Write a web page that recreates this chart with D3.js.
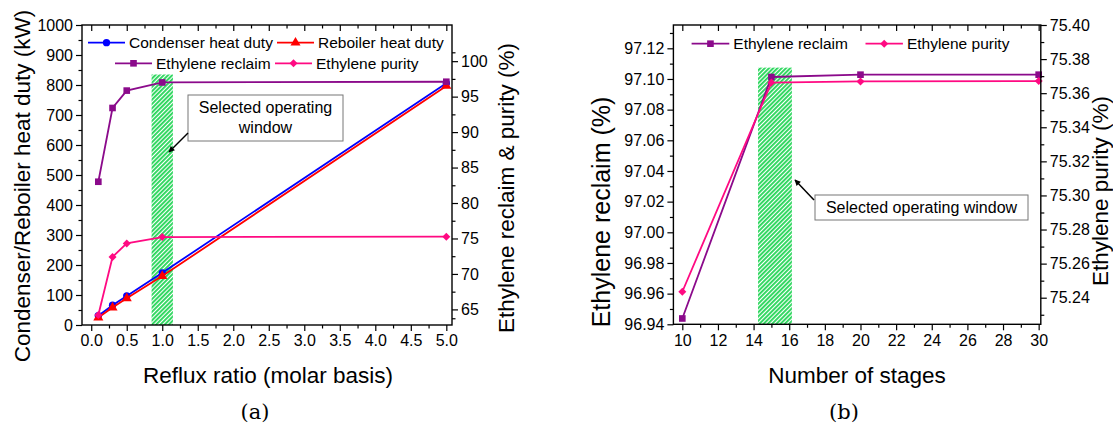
<!DOCTYPE html>
<html><head><meta charset="utf-8">
<script src="https://cdn.jsdelivr.net/npm/d3@7"></script>
<style>
body{margin:0;background:#fff}
svg{display:block}
text{font-family:"Liberation Sans",Arial,sans-serif;fill:#000}
</style></head>
<body><svg id="c" width="1113" height="427"></svg>
<script>
// ---------- DATA (panel a) ----------
const refluxRatio   = [0.1, 0.3, 0.5, 1.0, 5.0];
const condenserDuty = [31, 66, 97, 174, 806];
const reboilerDuty  = [25, 58, 89, 163, 797];
const reclaimA      = [83.0, 93.4, 95.85, 97.0, 97.1];
const purityA       = [64.2, 72.4, 74.3, 75.2, 75.25];
const windowA       = [0.85, 1.15];
const windowATop    = 835;
const xTicksA       = [0,0.5,1,1.5,2,2.5,3,3.5,4,4.5,5];
const yTicksA       = [0,100,200,300,400,500,600,700,800,900,1000];
const y2TicksA      = [65,70,75,80,85,90,95,100];
// ---------- DATA (panel b) ----------
const stages        = [10, 15, 20, 30];
const reclaimB      = [96.9438, 97.1013, 97.1028, 97.1028];
const purityB       = [75.2435, 75.3662, 75.3669, 75.3671];
const windowB       = [14.25, 16.15];
const windowBTop    = 97.1074;
const xTicksB       = [10,12,14,16,18,20,22,24,26,28,30];
const yTicksB       = [96.94,96.96,96.98,97.00,97.02,97.04,97.06,97.08,97.10,97.12];
const y2TicksB      = [75.24,75.26,75.28,75.30,75.32,75.34,75.36,75.38,75.40];

const C_BLUE="#0000ff", C_RED="#ff0000", C_PURPLE="#8b0a8b", C_PINK="#ff0a82";

const svg = d3.select("#c");
const defs = svg.append("defs");
const pat = defs.append("pattern").attr("id","hatch").attr("patternUnits","userSpaceOnUse")
  .attr("width",3).attr("height",3).attr("patternTransform","rotate(45)");
pat.append("rect").attr("width",3).attr("height",3).attr("fill","#ffffff");
pat.append("rect").attr("width",1.9).attr("height",3).attr("fill","#2bd65c");
defs.append("marker").attr("id","arrow").attr("viewBox","0 0 10 10").attr("refX",9).attr("refY",5)
  .attr("markerWidth",7).attr("markerHeight",6).attr("orient","auto-start-reverse").attr("markerUnits","userSpaceOnUse")
  .append("path").attr("d","M0,0L10,5L0,10z").attr("fill","#000");

const symSq = d3.symbol().type(d3.symbolSquare).size(44)();
const symCi = d3.symbol().type(d3.symbolCircle).size(42)();
const symTr = d3.symbol().type(d3.symbolTriangle).size(44)();
const symDi = d3.symbol().type(d3.symbolSquare).size(32)();

function minorTicks(major){
  const out=[]; for(let i=0;i<major.length-1;i++) out.push((major[i]+major[i+1])/2); return out;
}

function series(g, x, y, xs, ys, color, sym, rot){
  const pts = xs.map((v,i)=>[v, ys[i]]);
  g.append("path").datum(pts).attr("fill","none").attr("stroke",color).attr("stroke-width",1.8)
   .attr("d", d3.line().x(d=>x(d[0])).y(d=>y(d[1])));
  g.selectAll(null).data(pts).enter().append("path").attr("d",sym).attr("fill",color)
   .attr("transform",d=>`translate(${x(d[0])},${y(d[1])})${rot?" rotate(45)":""}`);
}

function legendItem(g, lx, ly, len, color, sym, rot, label){
  g.append("line").attr("x1",lx).attr("x2",lx+len).attr("y1",ly).attr("y2",ly).attr("stroke",color).attr("stroke-width",1.8);
  g.append("path").attr("d",sym).attr("fill",color).attr("transform",`translate(${lx+len/2},${ly})${rot?" rotate(45)":""}`);
  g.append("text").attr("x",lx+len+4).attr("y",ly+5.5).attr("font-size",15.5).text(label);
}

function axes(g, x, y, y2, xt, yt, y2t, xf, yf, y2f, xMin, yMin, y2Min){
  const [x0,x1]=x.range(), [yb,yt0]=y.range();
  const styleAx = s=>{ s.select(".domain").remove(); s.selectAll("line").attr("stroke","#000").attr("stroke-width",1.2); s.selectAll("text").attr("font-size",16).attr("font-family",'"Liberation Sans",Arial,sans-serif'); };
  g.append("g").attr("transform",`translate(0,${yb})`).call(d3.axisBottom(x).tickValues(xt).tickSize(6).tickPadding(4).tickFormat(xf)).call(styleAx);
  g.append("g").attr("transform",`translate(0,${yb})`).call(d3.axisBottom(x).tickValues(xMin).tickSize(3.5).tickFormat("")).call(styleAx);
  g.append("g").attr("transform",`translate(0,${yt0})`).call(d3.axisTop(x).tickValues(xt).tickSize(-6).tickFormat("")).call(styleAx);
  g.append("g").attr("transform",`translate(0,${yt0})`).call(d3.axisTop(x).tickValues(xMin).tickSize(-3.5).tickFormat("")).call(styleAx);
  g.append("g").attr("transform",`translate(${x0},0)`).call(d3.axisLeft(y).tickValues(yt).tickSize(6).tickPadding(3).tickFormat(yf)).call(styleAx);
  g.append("g").attr("transform",`translate(${x0},0)`).call(d3.axisLeft(y).tickValues(yMin).tickSize(3.5).tickFormat("")).call(styleAx);
  g.append("g").attr("transform",`translate(${x1},0)`).call(d3.axisRight(y2).tickValues(y2t).tickSize(6).tickPadding(3).tickFormat(y2f)).call(styleAx);
  g.append("g").attr("transform",`translate(${x1},0)`).call(d3.axisRight(y2).tickValues(y2Min).tickSize(3.5).tickFormat("")).call(styleAx);
  g.append("rect").attr("x",x0).attr("y",yt0).attr("width",x1-x0).attr("height",yb-yt0).attr("fill","none").attr("stroke","#000").attr("stroke-width",1.4);
}

// ================= PANEL A =================
{
  const g = svg.append("g");
  const x = d3.scaleLinear().domain([-0.13,5.08]).range([82,452]);
  const y = d3.scaleLinear().domain([0,1000]).range([325,25]);
  const y2 = d3.scaleLinear().domain([62.8,105.1]).range([325,25]);
  g.append("rect").attr("x",x(windowA[0])).attr("width",x(windowA[1])-x(windowA[0]))
   .attr("y",y(windowATop)).attr("height",y(0)-y(windowATop)).attr("fill","url(#hatch)");
  series(g,x,y,refluxRatio,condenserDuty,C_BLUE,symCi,false);
  series(g,x,y,refluxRatio,reboilerDuty,C_RED,symTr,false);
  series(g,x,y2,refluxRatio,reclaimA,C_PURPLE,symSq,false);
  series(g,x,y2,refluxRatio,purityA,C_PINK,symDi,true);
  axes(g,x,y,y2,xTicksA,yTicksA,y2TicksA,d3.format(".1f"),d3.format("d"),d3.format("d"),
       minorTicks(xTicksA),minorTicks(yTicksA),minorTicks([62.5].concat(y2TicksA,[102.5])));
  legendItem(g,88,42.7,37,C_BLUE,symCi,false,"Condenser heat duty");
  legendItem(g,277,42.7,37,C_RED,symTr,false,"Reboiler heat duty");
  legendItem(g,115,63.3,37,C_PURPLE,symSq,false,"Ethylene reclaim");
  legendItem(g,275,63.3,37,C_PINK,symDi,true,"Ethylene purity");
  g.append("rect").attr("x",188).attr("y",95).attr("width",155).attr("height",46).attr("fill","#fff").attr("stroke","#777").attr("stroke-width",1);
  g.append("text").attr("x",265.5).attr("y",113).attr("text-anchor","middle").attr("font-size",16).text("Selected operating");
  g.append("text").attr("x",265.5).attr("y",133).attr("text-anchor","middle").attr("font-size",16).text("window");
  g.append("line").attr("x1",188).attr("y1",133).attr("x2",169).attr("y2",152).attr("stroke","#000").attr("stroke-width",1.5).attr("marker-end","url(#arrow)");
  g.append("text").attr("x",268).attr("y",383).attr("text-anchor","middle").attr("font-size",22.5).text("Reflux ratio (molar basis)");
  g.append("text").attr("transform","translate(30,186) rotate(-90)").attr("text-anchor","middle").attr("font-size",22.5).text("Condenser/Reboiler heat duty (kW)");
  g.append("text").attr("transform","translate(514,188) rotate(-90)").attr("text-anchor","middle").attr("font-size",22.5).text("Ethylene reclaim & purity (%)");
  g.append("text").attr("x",255).attr("y",419).attr("text-anchor","middle").attr("font-size",21).style("font-family",'"DejaVu Serif",serif').text("(a)");
}

// ================= PANEL B =================
{
  const g = svg.append("g");
  const x = d3.scaleLinear().domain([9.5,30.12]).range([673.4,1040.8]);
  const y = d3.scaleLinear().domain([96.94,97.1352]).range([324.3,25]);
  const y2 = d3.scaleLinear().domain([75.2244,75.40]).range([324.3,25]);
  g.append("rect").attr("x",x(windowB[0])).attr("width",x(windowB[1])-x(windowB[0]))
   .attr("y",y(windowBTop)).attr("height",y(96.94)-y(windowBTop)).attr("fill","url(#hatch)");
  series(g,x,y,stages,reclaimB,C_PURPLE,symSq,false);
  series(g,x,y2,stages,purityB,C_PINK,symDi,true);
  axes(g,x,y,y2,xTicksB,yTicksB,y2TicksB,d3.format("d"),d3.format(".2f"),d3.format(".2f"),
       minorTicks(xTicksB),minorTicks(yTicksB.concat([97.14])),minorTicks([75.22].concat(y2TicksB)));
  legendItem(g,691.6,43.7,37.7,C_PURPLE,symSq,false,"Ethylene reclaim");
  legendItem(g,865.5,43.7,37.4,C_PINK,symDi,true,"Ethylene purity");
  g.append("rect").attr("x",815).attr("y",195).attr("width",213).attr("height",25).attr("fill","#fff").attr("stroke","#777").attr("stroke-width",1);
  g.append("text").attr("x",921.5).attr("y",213).attr("text-anchor","middle").attr("font-size",16).text("Selected operating window");
  g.append("line").attr("x1",814).attr("y1",200).attr("x2",795).attr("y2",180).attr("stroke","#000").attr("stroke-width",1.5).attr("marker-end","url(#arrow)");
  g.append("text").attr("x",857).attr("y",383).attr("text-anchor","middle").attr("font-size",22.5).text("Number of stages");
  g.append("text").attr("transform","translate(610,212) rotate(-90)").attr("text-anchor","middle").attr("font-size",25).text("Ethylene reclaim (%)");
  g.append("text").attr("transform","translate(1108,191) rotate(-90)").attr("text-anchor","middle").attr("font-size",22.5).text("Ethylene purity (%)");
  g.append("text").attr("x",844).attr("y",419).attr("text-anchor","middle").attr("font-size",21).style("font-family",'"DejaVu Serif",serif').text("(b)");
}
</script></body></html>
